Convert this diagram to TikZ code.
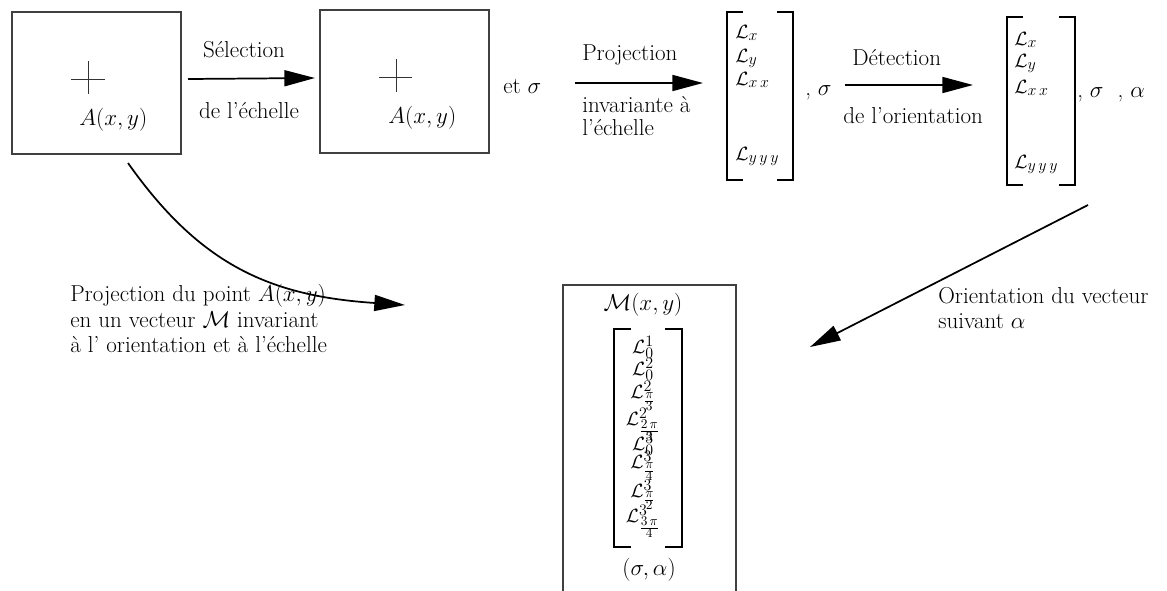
\documentclass[tikz,border=0pt]{standalone}
\usetikzlibrary{arrows.meta}
\DeclareMathSizes{14.4}{14.4}{12}{10}
\begin{document}
\begin{tikzpicture}[x=0.75pt,y=-0.75pt,
  txt/.style={font=\fontsize{17.28}{19}\selectfont, inner sep=0pt},
  mtx/.style={font=\fontsize{14.4}{15}\selectfont, inner sep=0pt},
  boxst/.style={draw=black!75, line width=0.8pt, inner sep=0pt},
  arr/.style={line width=1.3pt, -{Triangle[length=23pt,width=12pt]}},
  brk/.style={line width=1.3pt},
  crs/.style={line width=0.6pt, draw=black!80}]
\useasboundingbox (0,0) rectangle (1167,590);
\clip (0,0) rectangle (1167,590);

% boxes
\node[boxst, minimum width=126.75pt, minimum height=106.5pt] (box1) at (96.5,83) {};
\node[boxst, minimum width=126.75pt, minimum height=107.25pt] (box2) at (404.5,81.5) {};
\draw[boxst] (563,600) -- (563,285) -- (736,285) -- (736,600);

% crosses
\draw[crs] (71,79) -- (105,79) (88,61) -- (88,94);
\draw[crs] (379,77) -- (412,77) (396,59) -- (396,92);

% texts in boxes
\node[txt, anchor=base west] (A1) at (79,125) {$A(x,y)$};
\node[txt, anchor=base west] (A2) at (388,123) {$A(x,y)$};

% arrow 1
\coordinate (a1s) at (188,79);
\coordinate (a1e) at (315,78);
\draw[arr] (a1s) -- (a1e);
\node[txt, anchor=base] (sel) at (244,57) {Sélection};
\node[txt, anchor=base] (ech) at (249,118) {de l'échelle};

\node[txt, anchor=base west] (etsig) at (503,93) {et $\sigma$};

% arrow 2
\coordinate (a2s) at (575,83);
\coordinate (a2e) at (703,83);
\draw[arr] (a2s) -- (a2e);
\node[txt, anchor=base west] (proj) at (582,60) {Projection};
\node[txt, anchor=base west] (inv) at (582,112) {invariante à};
\node[txt, anchor=base west] (lech) at (582,135) {l'échelle};

% matrix 1
\draw[brk] (743,12) -- (727,12) -- (727,180) -- (743,180);
\draw[brk] (777,12) -- (793,12) -- (793,180) -- (777,180);
\node[mtx, anchor=base west] (m1a) at (735,38) {$\mathcal{L}_x$};
\node[mtx, anchor=base west] (m1b) at (735,62) {$\mathcal{L}_y$};
\node[mtx, anchor=base west] (m1c) at (735,85) {$\mathcal{L}_{x\,x}$};
\node[mtx, anchor=base west] (m1d) at (735,160) {$\mathcal{L}_{y\,y\,y}$};
\node[txt, anchor=base west] (m1s) at (805,95) {, $\sigma$};

% arrow 3
\coordinate (a3s) at (845,85);
\coordinate (a3e) at (973,85);
\draw[arr] (a3s) -- (a3e);
\node[txt, anchor=base west] (det) at (852,65) {Détection};
\node[txt, anchor=base west] (ori) at (843,123) {de l'orientation};

% matrix 2
\draw[brk] (1023,17) -- (1007,17) -- (1007,185) -- (1023,185);
\draw[brk] (1059,17) -- (1075,17) -- (1075,185) -- (1059,185);
\node[mtx, anchor=base west] (m2a) at (1014,45) {$\mathcal{L}_x$};
\node[mtx, anchor=base west] (m2b) at (1014,67) {$\mathcal{L}_y$};
\node[mtx, anchor=base west] (m2c) at (1014,93) {$\mathcal{L}_{x\,x}$};
\node[mtx, anchor=base west] (m2d) at (1014,168) {$\mathcal{L}_{y\,y\,y}$};
\node[txt, anchor=base west] (m2s) at (1077,97) {, $\sigma$ \ , $\alpha$};

% curved arrow
\coordinate (c1s) at (128,163);
\coordinate (c1e) at (405,305);
\draw[arr] (c1s) .. controls (200,265) and (270,296) .. (c1e);
\node[txt, anchor=base west] (pl1) at (70,301) {Projection du point $A(x,y)$};
\node[txt, anchor=base west] (pl2) at (70,327) {en un vecteur $\mathcal{M}$ invariant};
\node[txt, anchor=base west] (pl3) at (70,352) {à l' orientation et à l'échelle};

% arrow 4
\coordinate (a4s) at (1088,205);
\coordinate (a4e) at (810,347);
\draw[arr] (a4s) -- (a4e);
\node[txt, anchor=base west] (or1) at (938,303) {Orientation du vecteur};
\node[txt, anchor=base west] (or2) at (938,328) {suivant $\alpha$};

% M box content
\node[txt, anchor=base] (Mxy) at (643,310) {$\mathcal{M}(x,y)$};
\draw[brk] (631,329) -- (614,329) -- (614,547) -- (631,547);
\draw[brk] (665,329) -- (682,329) -- (682,547) -- (665,547);
\node[mtx, anchor=base] (e1) at (643,353) {$\mathcal{L}^{1}_{0}$};
\node[mtx, anchor=base] (e2) at (643,375) {$\mathcal{L}^{2}_{0}$};
\node[mtx, anchor=base] (e3) at (643,398) {$\mathcal{L}^{2}_{\frac{\pi}{3}}$};
\node[mtx, anchor=base] (e4) at (643,425) {$\mathcal{L}^{2}_{\frac{2\,\pi}{3}}$};
\node[mtx, anchor=base] (e5) at (643,450) {$\mathcal{L}^{3}_{0}$};
\node[mtx, anchor=base] (e6) at (643,468) {$\mathcal{L}^{3}_{\frac{\pi}{4}}$};
\node[mtx, anchor=base] (e7) at (643,497) {$\mathcal{L}^{3}_{\frac{\pi}{2}}$};
\node[mtx, anchor=base] (e8) at (643,522) {$\mathcal{L}^{3}_{\frac{3\,\pi}{4}}$};
\node[txt, anchor=base] (sa) at (649,575) {$(\sigma,\alpha)$};
\end{tikzpicture}
\end{document}
